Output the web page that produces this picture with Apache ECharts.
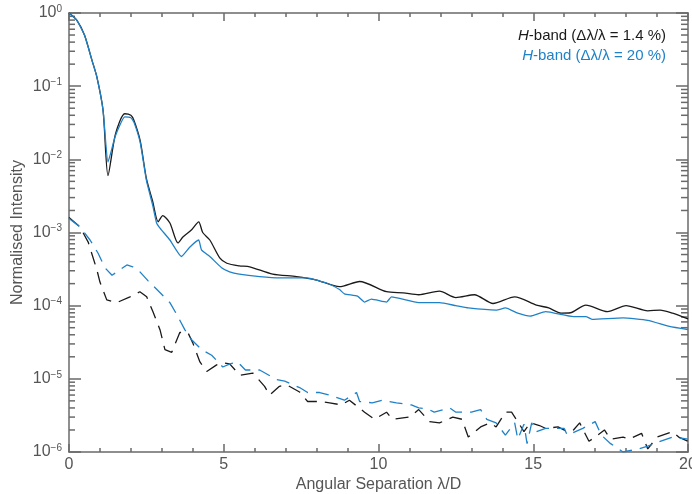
<!DOCTYPE html>
<html>
<head>
<meta charset="utf-8">
<script src="https://cdn.jsdelivr.net/npm/echarts@6/dist/echarts.min.js"></script>
<style>
html,body{margin:0;padding:0;background:#fff;}
#chart{width:692px;height:494px;}
</style>
</head>
<body>
<div id="chart"></div>
<script>
// ---- Data ----
const xBlackSolid = [0,0.25,0.5,0.75,0.9,1.1,1.26,1.5,1.8,2.0,2.1,2.3,2.5,2.7,2.88,3.03,3.26,3.52,3.68,3.97,4.19,4.32,4.55,4.87,5.1,5.5,5.84,6.58,7.35,8.0,8.74,9.39,10.26,10.8,11.3,11.97,12.5,13.1,13.7,14.4,15.1,15.5,15.9,16.2,16.7,17.4,18.0,18.7,19.1,19.5,20];
const yBlackSolid = [1.0,0.80,0.50,0.22,0.134,0.047,0.006,0.022,0.042,0.040,0.034,0.018,0.0055,0.0027,0.0014,0.0017,0.00135,0.00072,0.00087,0.0011,0.0014,0.001,0.00079,0.00045,0.00038,0.00035,0.00034,0.00027,0.00025,0.000224,0.000182,0.000214,0.000155,0.00015,0.000141,0.000158,0.000129,0.000141,0.000107,0.000132,0.000102,0.000093,0.000079,0.00008,0.000102,0.000083,0.0001,0.000085,0.000087,0.000079,0.000066];

const xBlueSolid = [0,0.25,0.5,0.75,0.9,1.1,1.26,1.5,1.8,2.0,2.1,2.3,2.5,2.7,2.83,2.94,3.26,3.63,3.9,4.19,4.28,4.55,4.93,5.19,5.5,6.16,6.8,7.68,8.32,8.74,8.9,9.32,9.55,9.77,10.26,10.42,11.3,11.97,12.5,12.9,13.8,14.1,14.5,14.9,15.4,16.3,16.7,16.9,17.9,18.7,19.4,20];
const yBlueSolid = [1.0,0.80,0.50,0.22,0.134,0.047,0.0092,0.021,0.038,0.037,0.032,0.017,0.0052,0.0024,0.00135,0.00115,0.00079,0.00047,0.00063,0.00079,0.00058,0.00047,0.00033,0.00029,0.00027,0.00025,0.00024,0.00024,0.000204,0.000166,0.000145,0.000135,0.000112,0.000123,0.000112,0.000132,0.00011,0.00011,0.0001,0.000093,0.000087,0.000093,0.000079,0.000072,0.000083,0.000071,0.000071,0.000065,0.000068,0.000063,0.000052,0.000047];

const xBlackDash = [0,0.35,0.62,0.9,1.0,1.22,1.54,1.97,2.29,2.51,2.71,2.94,3.1,3.32,3.58,3.84,4.0,4.23,4.45,4.77,4.97,5.19,5.52,5.94,6.32,6.48,6.8,7.03,7.45,7.71,8.1,8.42,8.8,9.06,9.55,9.87,10.26,10.45,11.0,11.3,11.65,11.97,12.4,12.7,12.9,13.3,13.6,13.8,14.1,14.3,14.5,14.7,14.9,15.2,15.4,15.8,16.1,16.3,16.5,16.8,17.0,17.3,17.5,17.9,18.1,18.5,18.7,19.0,19.5,19.7,20];
const yBlackDash = [0.0016,0.0012,0.00074,0.00031,0.00021,0.00012,0.00011,0.000132,0.000155,0.000132,0.000083,0.000047,0.000025,0.000023,0.000043,0.000043,0.000031,0.000017,0.0000126,0.0000155,0.0000166,0.000016,0.0000112,0.000012,0.0000079,0.000006,0.0000079,0.0000083,0.0000066,0.0000049,0.0000049,0.0000047,0.0000044,0.0000051,0.0000035,0.0000028,0.0000035,0.0000028,0.000003,0.0000038,0.0000026,0.0000025,0.000003,0.0000028,0.0000016,0.0000022,0.0000025,0.0000022,0.0000035,0.0000035,0.0000026,0.0000019,0.0000025,0.0000023,0.0000021,0.0000022,0.0000019,0.000002,0.0000025,0.0000014,0.0000016,0.000002,0.0000015,0.0000016,0.0000015,0.0000018,0.0000011,0.0000016,0.0000019,0.0000016,0.0000014];

const xBlueDash = [0,0.35,0.68,0.94,1.16,1.39,1.87,2.06,2.23,2.55,2.84,3.26,3.48,3.74,3.97,4.29,4.61,4.97,5.2,5.45,5.7,6.16,6.7,6.97,7.45,7.71,8.1,8.42,8.9,9.29,9.39,9.8,10.13,10.58,11.06,11.3,11.58,11.8,12.3,12.5,13.0,13.3,13.5,13.8,14.1,14.4,14.5,14.7,14.8,14.95,15.1,15.4,16.0,16.1,16.6,17.0,17.2,17.5,17.9,18.4,18.7,19.1,19.5,20];
const yBlueDash = [0.00155,0.0012,0.00079,0.00052,0.00033,0.00026,0.00036,0.00034,0.00031,0.00022,0.000166,0.00011,0.000076,0.000047,0.000034,0.000025,0.000021,0.0000145,0.000016,0.000017,0.0000132,0.0000132,0.0000098,0.0000093,0.0000076,0.0000065,0.0000065,0.000006,0.0000051,0.0000065,0.0000049,0.0000047,0.0000051,0.0000047,0.0000044,0.000004,0.0000039,0.0000035,0.000004,0.0000035,0.0000035,0.0000038,0.0000028,0.0000025,0.0000017,0.0000025,0.0000015,0.0000024,0.0000013,0.0000025,0.0000019,0.0000021,0.0000021,0.0000017,0.0000021,0.0000026,0.0000017,0.0000013,0.000001,0.0000011,0.0000012,0.0000014,0.0000016,0.0000015];

const legendLabels = ['{i|H}-band (Δλ/λ = 1.4 %)', '{i|H}-band (Δλ/λ = 20 %)'];
const xAxisTitle = 'Angular Separation λ/D';
const yAxisTitle = 'Normalised Intensity';
const decadeExps = [-6,-5,-4,-3,-2,-1];
const minorMults = [2,3,4,5,6,7,8,9];

// ---- Styles ----
const BLACK = '#1a1a1a';
const BLUE = '#1f82c8';
const AXIS = '#6a6a6a';
const TEXT = '#555555';
const FONT = 'Liberation Sans, Arial, sans-serif';

function zip(xs, ys) { return xs.map((x, i) => [x, ys[i]]); }
const minorTickValues = [];
decadeExps.forEach(e => minorMults.forEach(m => minorTickValues.push(m * Math.pow(10, e))));

const sup = { fontSize: 10, padding: [0, 0, 8, 0], color: TEXT, fontFamily: FONT };
function logLabel(v) {
  const e = Math.round(Math.log10(v));
  return '10{s|' + (e < 0 ? '−' + (-e) : e) + '}';
}

const chart = echarts.init(document.getElementById('chart'));
const axisLineStyle = { color: AXIS, width: 1.5 };

chart.setOption({
  animation: false,
  backgroundColor: '#fff',
  grid: { left: 69, right: 4, top: 13, bottom: 42, containLabel: false, outerBoundsMode: 'none' },
  xAxis: [
    {
      type: 'value', min: 0, max: 20, interval: 5, position: 'bottom',
      axisLine: { show: true, onZero: false, lineStyle: axisLineStyle },
      axisTick: { show: true, inside: true, length: 8, lineStyle: axisLineStyle },
      minorTick: { show: true, splitNumber: 5, length: 4, lineStyle: axisLineStyle },
      splitLine: { show: false },
      axisLabel: { color: TEXT, fontSize: 16, fontFamily: FONT, margin: 5 },
      name: xAxisTitle, nameLocation: 'middle', nameGap: 25, nameMoveOverlap: false,
      nameTextStyle: { color: TEXT, fontSize: 16, fontFamily: FONT }
    },
    {
      type: 'value', min: 0, max: 20, interval: 5, position: 'top',
      axisLine: { show: true, onZero: false, lineStyle: axisLineStyle },
      axisTick: { show: true, inside: true, length: 8, lineStyle: axisLineStyle },
      minorTick: { show: true, splitNumber: 5, length: 4, lineStyle: axisLineStyle },
      splitLine: { show: false }, axisLabel: { show: false }
    }
  ],
  yAxis: [
    {
      type: 'log', logBase: 10, min: 1e-6, max: 1, position: 'left',
      axisLine: { show: true, onZero: false, lineStyle: axisLineStyle },
      axisTick: { show: true, inside: true, length: 12, lineStyle: axisLineStyle },
      splitLine: { show: false },
      axisLabel: {
        formatter: logLabel, color: TEXT, fontSize: 16, fontFamily: FONT, margin: 7,
        rich: { s: sup }
      },
      name: yAxisTitle, nameLocation: 'middle', nameGap: 43, nameRotate: 90, nameMoveOverlap: false,
      nameTextStyle: { color: TEXT, fontSize: 16, fontFamily: FONT }
    },
    {
      type: 'log', logBase: 10, min: 1e-6, max: 1, position: 'right',
      axisLine: { show: true, onZero: false, lineStyle: axisLineStyle },
      axisTick: { show: true, inside: true, length: 12, lineStyle: axisLineStyle },
      splitLine: { show: false }, axisLabel: { show: false }
    }
  ],
  graphic: legendLabels.map((t, i) => ({
    type: 'text', right: 26, top: 28 + i * 20, silent: true,
    style: {
      text: t, fill: i === 0 ? BLACK : BLUE, fontSize: 15, fontFamily: FONT,
      rich: { i: { fontStyle: 'italic', fontSize: 15, fontFamily: FONT, fill: i === 0 ? BLACK : BLUE } }
    }
  })),
  series: [
    {
      type: 'custom', name: 'minorTicks', xAxisIndex: 0, yAxisIndex: 0, silent: true,
      data: minorTickValues.map(v => [0, v]),
      renderItem: function (params, api) {
        const v = api.value(1);
        const p0 = api.coord([0, v]);
        const p1 = api.coord([20, v]);
        const st = { stroke: AXIS, lineWidth: 1.5 };
        return {
          type: 'group',
          children: [
            { type: 'line', shape: { x1: p0[0], y1: p0[1], x2: p0[0] + 6, y2: p0[1] }, style: st },
            { type: 'line', shape: { x1: p1[0], y1: p1[1], x2: p1[0] - 7, y2: p1[1] }, style: st }
          ]
        };
      },
      clip: false, z: 1
    },
    {
      type: 'line', data: zip(xBlackDash, yBlackDash), showSymbol: false, symbol: 'none',
      lineStyle: { color: BLACK, width: 1.3, type: [13, 8] }, z: 3
    },
    {
      type: 'line', data: zip(xBlueDash, yBlueDash), showSymbol: false, symbol: 'none',
      lineStyle: { color: BLUE, width: 1.3, type: [13, 8] }, z: 3
    },
    {
      type: 'line', data: zip(xBlackSolid, yBlackSolid), showSymbol: false, symbol: 'none',
      smooth: 0.25,
      lineStyle: { color: BLACK, width: 1.3 }, z: 4
    },
    {
      type: 'line', data: zip(xBlueSolid, yBlueSolid), showSymbol: false, symbol: 'none',
      smooth: 0.15,
      lineStyle: { color: BLUE, width: 1.3 }, z: 5
    }
  ]
});
</script>
</body>
</html>
